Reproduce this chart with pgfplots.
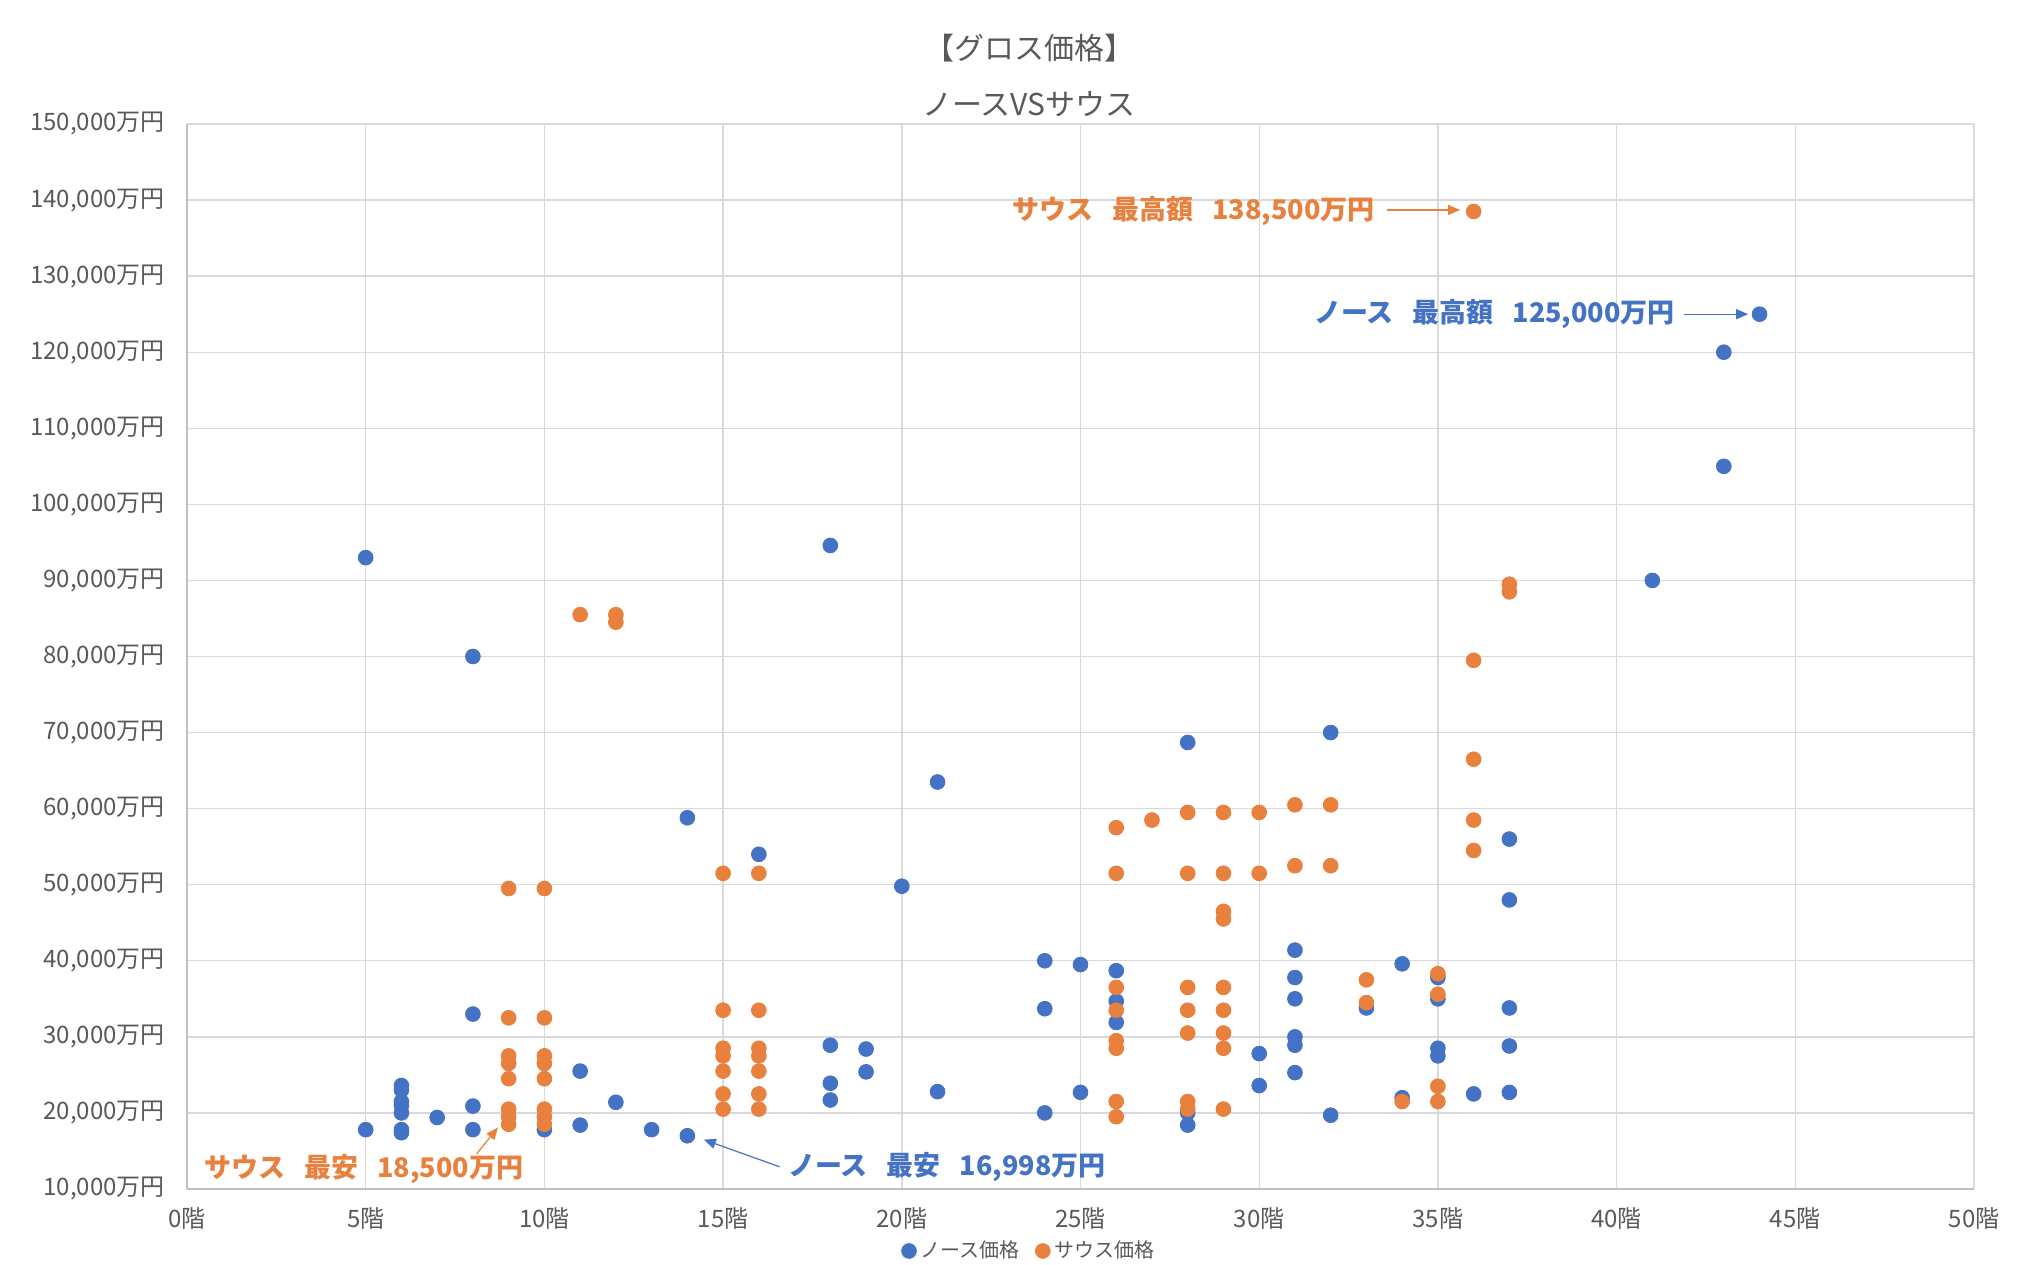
\documentclass[border=0pt]{standalone}
\usepackage{fontspec}
\setmainfont{Noto Sans CJK JP}
\usepackage{pgfplots}
\pgfplotsset{compat=1.18}
\usetikzlibrary{arrows.meta}
\definecolor{nblue}{HTML}{4472C4}
\definecolor{sorange}{HTML}{E8803E}
\definecolor{txt}{HTML}{595959}
\definecolor{gridc}{HTML}{D9D9D9}
\definecolor{axl}{HTML}{BFBFBF}
\begin{document}
\begin{tikzpicture}
\useasboundingbox (-93.5pt,-37.5pt) rectangle (926.5pt,594.5pt);
\begin{axis}[
  at={(0,0)}, anchor=south west,
  scale only axis, width=893.5pt, height=532.5pt,
  xmin=0, xmax=50, ymin=10000, ymax=150000,
  xtick={0,5,...,50},
  ytick={10000,20000,...,150000},
  scaled y ticks=false, scaled x ticks=false,
  xticklabels={0階,5階,10階,15階,20階,25階,30階,35階,40階,45階,50階},
  yticklabels={{10,000万円},{20,000万円},{30,000万円},{40,000万円},{50,000万円},{60,000万円},{70,000万円},{80,000万円},{90,000万円},{100,000万円},{110,000万円},{120,000万円},{130,000万円},{140,000万円},{150,000万円}},
  grid=major,
  major grid style={gridc, line width=0.7pt},
  axis x line*=bottom, axis y line*=left,
  axis line style={axl, line width=0.8pt},
  major tick length=0pt,
  tick style={draw=none},
  tick label style={font=\fontsize{12}{14}\selectfont, text=txt},
  yticklabel style={xshift=-7.5pt},
  xticklabel style={yshift=-6pt},
  clip=false,
  legend style={at={(0.4717,-0.0582)}, anchor=center, draw=none, fill=none,
    legend columns=2, font=\fontsize{10}{12}\selectfont, text=txt,
    /tikz/every even column/.append style={column sep=6pt}},
  legend cell align=left,
]
\addplot[only marks, mark=*, mark size=3.7pt, nblue] coordinates {
(5,93000) (5,17800)
(6,23600)(6,23000)(6,21500)(6,21000)(6,20000)(6,17800)(6,17400)
(7,19400)
(8,80000)(8,33000)(8,20900)(8,17800)
(10,17800)
(11,25500)(11,18400)
(12,21400)
(13,17800)
(14,58800)(14,16998)
(16,54000)
(18,94600)(18,28900)(18,23900)(18,21700)
(19,28400)(19,25400)
(20,49800)
(21,63500)(21,22800)
(24,40000)(24,33700)(24,20000)
(25,39500)(25,22700)
(26,38700)(26,34700)(26,31900)
(28,68700)(28,20000)(28,18400)
(30,27800)(30,23600)
(31,41400)(31,37800)(31,35000)(31,30000)(31,28900)(31,25300)
(32,70000)(32,19700)
(33,33800)
(34,39600)(34,22000)
(35,37800)(35,35000)(35,28500)(35,27500)
(36,22500)
(37,56000)(37,48000)(37,33800)(37,28800)(37,22700)
(41,90000)
(43,120000)(43,105000)
(44,125000)
};
\addlegendentry{ノース価格}
\addplot[only marks, mark=*, mark size=3.7pt, sorange] coordinates {
(9,49500)(9,32500)(9,27500)(9,26500)(9,24500)(9,20500)(9,19500)(9,18500)
(10,49500)(10,32500)(10,27500)(10,26500)(10,24500)(10,20500)(10,19500)(10,18500)
(11,85500)
(12,85500)(12,84500)
(15,51500)(15,33500)(15,28500)(15,27500)(15,25500)(15,22500)(15,20500)
(16,51500)(16,33500)(16,28500)(16,27500)(16,25500)(16,22500)(16,20500)
(26,57500)(26,51500)(26,36500)(26,33500)(26,29500)(26,28500)(26,21500)(26,19500)
(27,58500)
(28,59500)(28,51500)(28,36500)(28,33500)(28,30500)(28,21500)(28,20500)
(29,59500)(29,51500)(29,46500)(29,45500)(29,36500)(29,33500)(29,30500)(29,28500)(29,20500)
(30,59500)(30,51500)
(31,60500)(31,52500)
(32,60500)(32,52500)
(33,37500)(33,34500)
(34,21500)
(35,38300)(35,35600)(35,23500)(35,21500)
(36,138500)(36,79500)(36,66500)(36,58500)(36,54500)
(37,89500)(37,88500)
};
\addlegendentry{サウス価格}
% annotations
\node[anchor=east, inner sep=0pt, text=sorange, font=\bfseries\fontsize{13.5}{16}\selectfont] at (axis cs:33.24,138570) {サウス\hspace{0.7em}最高額\hspace{0.7em}138,500万円};
\draw[-{Triangle[length=6pt,width=5pt]}, sorange, line width=0.6pt] (axis cs:33.58,138700) -- (axis cs:35.62,138700);
\node[anchor=east, inner sep=0pt, text=nblue, font=\bfseries\fontsize{13.5}{16}\selectfont] at (axis cs:41.64,125030) {ノース\hspace{0.7em}最高額\hspace{0.7em}125,000万円};
\draw[-{Triangle[length=6pt,width=5pt]}, nblue, line width=0.6pt] (axis cs:41.88,125000) -- (axis cs:43.68,125000);
\node[anchor=east, inner sep=0pt, text=sorange, font=\bfseries\fontsize{13.5}{16}\selectfont] at (axis cs:9.42,12680) {サウス\hspace{0.7em}最安\hspace{0.7em}18,500万円};
\draw[-{Triangle[length=6pt,width=5pt]}, sorange, line width=0.6pt] (axis cs:8.10,14600) -- (axis cs:8.70,18080);
\node[anchor=east, inner sep=0pt, text=nblue, font=\bfseries\fontsize{13.5}{16}\selectfont] at (axis cs:25.71,12940) {ノース\hspace{0.7em}最安\hspace{0.7em}16,998万円};
\draw[-{Triangle[length=6pt,width=5pt]}, nblue, line width=0.6pt] (axis cs:16.58,12920) -- (axis cs:14.46,16490);
\end{axis}
\node[text=txt, font=\fontsize{15}{18}\selectfont] at (421pt,570.5pt) {【グロス価格】};
\node[text=txt, font=\fontsize{15}{18}\selectfont] at (421pt,542.5pt) {ノースVSサウス};
\end{tikzpicture}
\end{document}
